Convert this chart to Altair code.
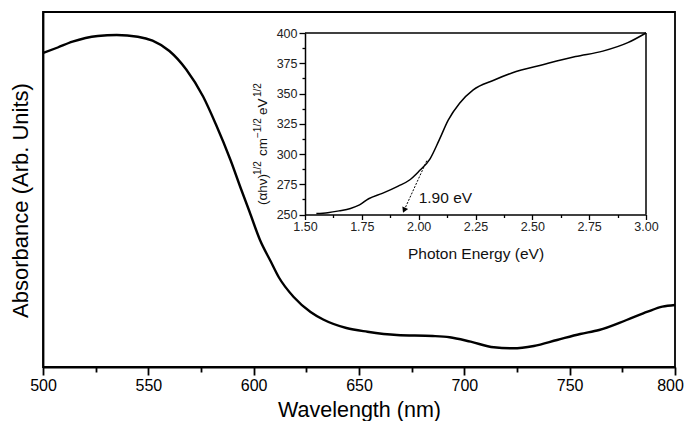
import altair as alt
import pandas as pd

FONT = "Liberation Sans"

# ---- main spectrum (absorbance in arbitrary units) ----
wavelength = [500, 507, 514, 526, 535, 545, 552, 560, 568, 576, 582, 589, 594, 598,
              603, 608, 612, 619, 627, 633, 644, 654, 668, 685, 693, 703, 714, 723,
              733, 744, 755, 764, 777, 787, 794, 800]
absorbance = [314, 319.5, 325.3, 331, 332, 330.3, 326.3, 316, 297.5, 270.5, 243, 207,
              178, 155.5, 127, 106, 89.5, 70, 55, 47.5, 39, 35.3, 32, 31, 29.7, 25.3,
              19.7, 18.7, 21, 27, 33, 37, 47, 55.3, 60.3, 62]

# ---- inset: Tauc plot ----
energy = [1.55, 1.60, 1.65, 1.70, 1.74, 1.78, 1.84, 1.91, 1.96, 2.00, 2.05, 2.09,
          2.13, 2.18, 2.24, 2.33, 2.41, 2.55, 2.69, 2.81, 2.92, 3.00]
tauc = [250.8, 251.5, 253, 255, 258, 263, 267.5, 273.5, 278.5, 285.5, 296, 311.5,
        328, 342, 353, 361, 367, 374, 380.5, 385, 392, 400]

arrow_E = [2.037, 1.936]
arrow_F = [295, 253.5]
band_gap_label = "1.90 eV"
label_E = [2.0]
label_F = [259.5]

main_ticks = list(range(500, 801, 25))
inset_x_ticks = [1.5 + 0.125 * i for i in range(13)]
inset_y_ticks = [250 + 12.5 * i for i in range(13)]

# inset y-axis title pieces: (αhν)^1/2 cm^-1/2 eV^1/2
seg_texts = ["(\u03b1h\u03bd)", "1/2", "cm", "\u22121/2", "eV", "1/2"]
seg_sup = [False, True, False, True, False, True]

# ---- geometry ----
W, H = 632, 355
PLOT_LEFT, PLOT_TOP = 43, 12       # page px of plot origin
INSET_X0, INSET_X1 = 262, 603      # px inside plot area
INSET_Y0, INSET_Y1 = 202.5, 21     # px (250 -> bottom, 400 -> top)
E_DOM = [1.5, 3.0]
F_DOM = [250, 400]
px_per_E = (INSET_X1 - INSET_X0) / (E_DOM[1] - E_DOM[0])
px_per_F = (INSET_Y0 - INSET_Y1) / (F_DOM[1] - F_DOM[0])

MAJ_MAIN = "datum.value % 50 === 0"
MAJ_IX = "abs(datum.value*4 - round(datum.value*4)) < 0.001"
MAJ_IY = "datum.value % 25 === 0"

# ---- main chart ----
main_df = pd.DataFrame({"wl": wavelength, "A": absorbance})
main_x_axis = alt.Axis(
    values=main_ticks,
    labelExpr=f"{MAJ_MAIN} ? datum.label : ''",
    tickSize={"condition": {"test": MAJ_MAIN, "value": 8}, "value": 5},
    tickWidth=1.8, tickColor="black",
    domainWidth=1.8, domainColor="black",
    labelFontSize=16, labelColor="black", labelFont=FONT, labelPadding=2,
    labelOffset={"condition": {"test": "datum.value === 800", "value": -5}, "value": 0},
    labelFlush=False, labelOverlap=False,
    title="Wavelength (nm)", titleFontSize=21.5, titleFont=FONT,
    titleFontWeight="normal", titleColor="black",
    titleBaseline="alphabetic", titleY=49,
    grid=False,
)
main_y_axis = alt.Axis(
    ticks=False, labels=False, grid=False,
    domainWidth=1.8, domainColor="black",
    title="Absorbance (Arb. Units)", titleFontSize=22, titleFont=FONT,
    titleFontWeight="normal", titleColor="black",
    titleAngle=270, titleBaseline="alphabetic", titleAlign="center",
    titleX=-16, titleY=188,
)
main = alt.Chart(main_df).mark_line(
    color="black", strokeWidth=2.4, interpolate="monotone"
).encode(
    x=alt.X("wl:Q", scale=alt.Scale(domain=[500, 800], nice=False, zero=False), axis=main_x_axis),
    y=alt.Y("A:Q", scale=alt.Scale(domain=[0, 355], nice=False), axis=main_y_axis),
)

# ---- inset ----
sx = alt.Scale(domain=E_DOM, range=[INSET_X0, INSET_X1], nice=False, zero=False)
sy = alt.Scale(domain=F_DOM, range=[INSET_Y0, INSET_Y1], nice=False, zero=False)
inset_x_axis = alt.Axis(
    orient="bottom", offset=-(H - INSET_Y0),
    values=inset_x_ticks,
    labelExpr=f"{MAJ_IX} ? format(datum.value, '.2f') : ''",
    tickSize={"condition": {"test": MAJ_IX, "value": 5}, "value": 3},
    tickWidth=1.3, tickColor="black",
    domainWidth=1.5, domainColor="black",
    labelFontSize=12.5, labelColor="#222", labelFont=FONT, labelPadding=1,
    labelFlush=False, labelOverlap=False,
    title="Photon Energy (eV)", titleFontSize=15.5, titleFont=FONT,
    titleFontWeight="normal", titleColor="#111",
    titleBaseline="alphabetic", titleY=43.5,
    grid=False,
)
inset_y_axis = alt.Axis(
    orient="left", offset=-INSET_X0,
    values=inset_y_ticks,
    labelExpr=f"{MAJ_IY} ? datum.label : ''",
    tickSize={"condition": {"test": MAJ_IY, "value": 6}, "value": 3},
    tickWidth=1.3, tickColor="black",
    domainWidth=1.5, domainColor="black",
    labelFontSize=12.5, labelColor="#222", labelFont=FONT, labelPadding=2,
    labelFlush=False, labelOverlap=False,
    title=None, grid=False,
)
X = alt.X("E:Q", scale=sx, axis=inset_x_axis)
Y = alt.Y("F:Q", scale=sy, axis=inset_y_axis)

inset_curve = alt.Chart(pd.DataFrame({"E": energy, "F": tauc})).mark_line(
    color="black", strokeWidth=1.5, interpolate="monotone"
).encode(x=X, y=Y)

frame_top = alt.Chart(pd.DataFrame({"E": [E_DOM[0]], "E2": [E_DOM[1]], "F": [F_DOM[1]]})).mark_rule(
    color="black", strokeWidth=1.5
).encode(x=X, x2="E2:Q", y=Y)
frame_right = alt.Chart(pd.DataFrame({"E": [E_DOM[1]], "F": [F_DOM[0]], "F2": [F_DOM[1]]})).mark_rule(
    color="black", strokeWidth=1.5
).encode(x=X, y=Y, y2="F2:Q")

arrow_line = alt.Chart(pd.DataFrame({"E": arrow_E, "F": arrow_F})).mark_line(
    color="black", strokeWidth=1, strokeDash=[2, 1.5]
).encode(x=X, y=Y)
arrow_head = alt.Chart(pd.DataFrame({"E": [arrow_E[1]], "F": [arrow_F[1]]})).mark_point(
    shape="triangle-down", filled=True, size=40, angle=24, color="black", opacity=1
).encode(x=X, y=Y)
gap_text = alt.Chart(pd.DataFrame({"E": label_E, "F": label_F, "t": [band_gap_label]})).mark_text(
    align="left", baseline="alphabetic", fontSize=15.5, font=FONT, color="#111"
).encode(x=X, y=Y, text="t:N")

# inset y title (rotated), pieces laid out bottom-to-top
FS_MAIN, FS_SUP = 13.5, 10
seg_start_px = [205, 175, 156, 138, 115, 97]   # page y where each piece begins
base_page_x = 267                                # page x of the text baseline
rows = []
for t, sup, py in zip(seg_texts, seg_sup, seg_start_px):
    rows.append({"t": t, "sup": sup,
                 "E": E_DOM[0] + (base_page_x - PLOT_LEFT - INSET_X0) / px_per_E,
                 "F": F_DOM[0] + (INSET_Y0 - (py - PLOT_TOP)) / px_per_F})
title_df = pd.DataFrame(rows)
title_main = alt.Chart(title_df[~title_df["sup"]]).mark_text(
    angle=270, align="left", baseline="alphabetic", fontSize=FS_MAIN, font=FONT, color="#111"
).encode(x=X, y=Y, text="t:N")
title_sup = alt.Chart(title_df[title_df["sup"]]).mark_text(
    angle=270, align="left", baseline="alphabetic", fontSize=FS_SUP, font=FONT, color="#111", dy=-6
).encode(x=X, y=Y, text="t:N")

inset = alt.layer(inset_curve, frame_top, frame_right, arrow_line, arrow_head,
                  gap_text, title_main, title_sup)

chart = alt.layer(main, inset).resolve_scale(
    x="independent", y="independent"
).properties(
    width=W, height=H,
    autosize=alt.AutoSizeParams(type="none"),
    padding={"left": 35, "top": 4, "right": 9, "bottom": 54},
    background="white",
).configure_view(
    stroke="black", strokeWidth=1.8
)

chart.save("out.html", embed_options={"renderer": "svg", "actions": False})
